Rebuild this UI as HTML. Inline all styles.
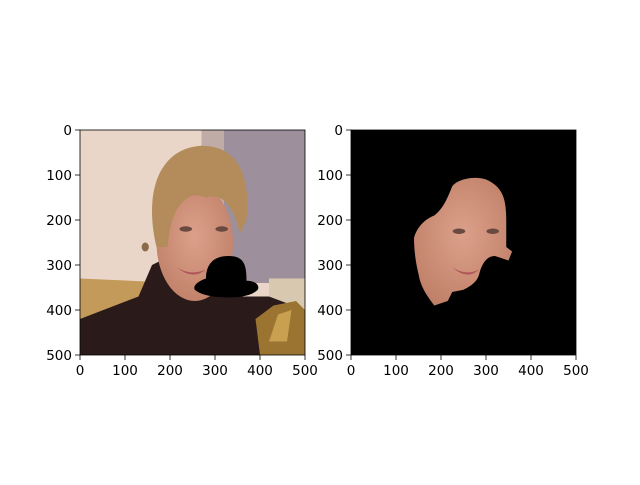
<!DOCTYPE html>
<html><head><meta charset="utf-8"><style>
body{margin:0;background:#fff;}
svg text{font-family:"DejaVu Sans","Liberation Sans",sans-serif;font-size:13.5px;fill:#000;}
</style></head><body>
<svg width="640" height="480" viewBox="0 0 640 480">
<defs>
<clipPath id="c1"><rect x="0" y="0" width="500" height="500"/></clipPath>
<radialGradient id="face" cx="0.5" cy="0.45" r="0.6"><stop offset="0" stop-color="#dca08a"/><stop offset="1" stop-color="#c08068"/></radialGradient>
</defs>
<g transform="translate(80,130) scale(0.45)" clip-path="url(#c1)">
<rect width="500" height="500" fill="#ead6c8"/>
<rect x="300" y="0" width="200" height="340" fill="#9d8f9c"/>
<rect x="270" y="0" width="50" height="340" fill="#c0aca6"/>
<path d="M0 330 L220 340 L220 420 L0 430Z" fill="#c49a5a"/>
<rect x="420" y="330" width="80" height="70" fill="#d9c8b0"/>
<path d="M0 420 L130 370 L160 300 L200 280 L300 370 L420 370 L500 400 L500 500 L0 500Z" fill="#2a1a1a"/>
<ellipse cx="255" cy="250" rx="85" ry="130" fill="url(#face)"/>
<path d="M170 260 C140 130 180 40 270 35 C350 35 380 100 370 200 L355 230 C340 160 310 140 280 150 C240 130 200 170 195 260Z" fill="#b48c5c"/>
<ellipse cx="145" cy="260" rx="8" ry="10" fill="#8a6a4a"/>
<ellipse cx="235" cy="220" rx="14" ry="6" fill="#6a4a40"/>
<ellipse cx="315" cy="220" rx="14" ry="6" fill="#6a4a40"/>
<path d="M215 305 Q245 325 280 310 Q250 335 215 305Z" fill="#b0565a"/>
<path d="M280 330 C280 300 295 280 330 280 C365 280 370 300 370 335 C390 335 400 345 395 355 C380 370 350 372 330 372 C300 372 270 368 255 355 C250 345 265 335 280 330Z" fill="#000"/>
<path d="M400 500 L390 420 L430 390 L480 380 L500 400 L500 500Z" fill="#9a7430"/>
<path d="M420 470 L440 410 L470 400 L460 470Z" fill="#c8a050"/>
</g>
<rect x="80" y="130" width="225" height="225" fill="none" stroke="#000" stroke-width="0.8"/>
<g transform="translate(351,130) scale(0.45)" clip-path="url(#c1)">
<rect width="500" height="500" fill="#000"/>
<path d="M225 125 C240 105 290 100 310 115 C335 130 345 150 345 200 L345 260 L358 270 L350 290 L320 280 C300 280 290 300 285 320 C280 340 260 350 250 355 L225 360 L215 380 L185 390 C170 370 155 350 150 320 C145 300 140 270 140 240 C145 220 160 200 185 190 C205 175 215 150 225 125Z" fill="url(#face)"/>
<ellipse cx="240" cy="225" rx="14" ry="6" fill="#6a4a40"/>
<ellipse cx="315" cy="225" rx="14" ry="6" fill="#6a4a40"/>
<path d="M225 305 Q255 325 285 310 Q258 335 225 305Z" fill="#b0565a"/>
</g>
<rect x="351" y="130" width="225" height="225" fill="none" stroke="#000" stroke-width="0.8"/>
<g id="ticks"></g>
</svg>
<script>
const tickValues=[0,100,200,300,400,500];
const axesLeft=[80,351];
const g=document.getElementById('ticks');
const NS='http://www.w3.org/2000/svg';
function sx(v,x0){return x0+v*225/500;}
function sy(v){return 130+v*225/500;}
axesLeft.forEach((x0,ai)=>{
  tickValues.forEach(v=>{
    let l=document.createElementNS(NS,'line');
    l.setAttribute('x1',sx(v,x0));l.setAttribute('x2',sx(v,x0));l.setAttribute('y1',355);l.setAttribute('y2',360);l.setAttribute('stroke','#000');l.setAttribute('stroke-width','0.8');
    
    
    g.appendChild(l);
    let t=document.createElementNS(NS,'text');
    t.setAttribute('x',sx(v,x0));t.setAttribute('y',375);t.setAttribute('text-anchor','middle');t.textContent=v;
    
    
    g.appendChild(t);
    let l2=document.createElementNS(NS,'line');
    l2.setAttribute('x1',x0-5);l2.setAttribute('x2',x0);l2.setAttribute('y1',sy(v));l2.setAttribute('y2',sy(v));l2.setAttribute('stroke','#000');l2.setAttribute('stroke-width','0.8');
    
    
    g.appendChild(l2);
    let t2=document.createElementNS(NS,'text');
    t2.setAttribute('x',x0-8);t2.setAttribute('y',sy(v)+5);t2.setAttribute('text-anchor','end');t2.textContent=v;
    
    
    g.appendChild(t2);
  });
});
</script>
</body></html>
